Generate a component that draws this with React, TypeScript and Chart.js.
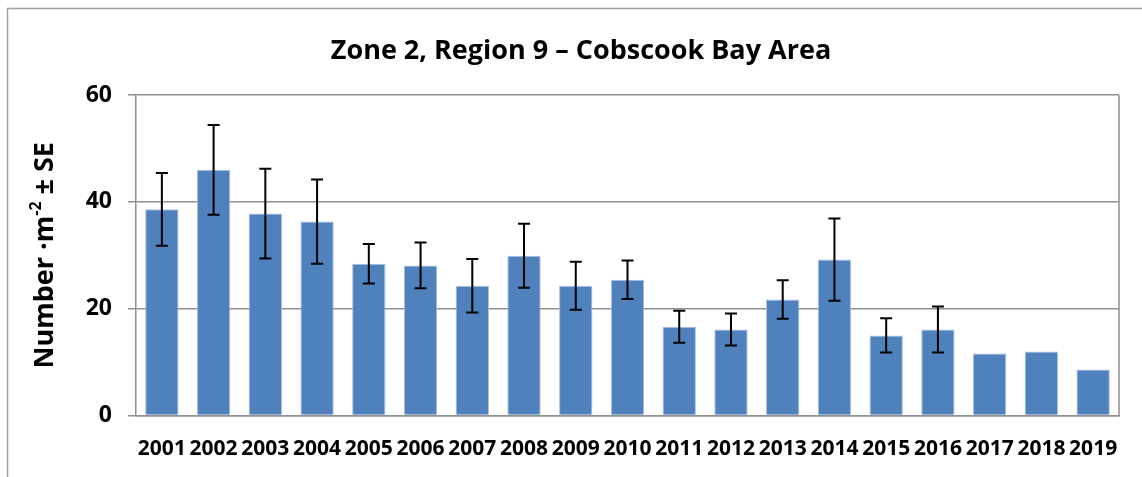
import React, { useEffect, useRef } from "react";
import { Chart, registerables } from "chart.js";

Chart.register(...registerables);

const years = ["2001", "2002", "2003", "2004", "2005", "2006", "2007", "2008", "2009", "2010", "2011", "2012", "2013", "2014", "2015", "2016", "2017", "2018", "2019"];
const means = [38.6, 46.0, 37.8, 36.3, 28.4, 28.1, 24.3, 29.9, 24.3, 25.4, 16.6, 16.1, 21.7, 29.2, 15.0, 16.1, 11.6, 12.0, 8.6];
const se: (number | null)[] = [6.8, 8.4, 8.4, 7.9, 3.7, 4.3, 5.0, 6.0, 4.5, 3.6, 3.0, 3.0, 3.6, 7.7, 3.2, 4.3, null, null, null];
const yTicks = [0, 20, 40, 60];

const titleText = "Zone 2, Region 9 \u2013 Cobscook Bay Area";
const FONT = "'Open Sans', 'Liberation Sans', sans-serif";

const decorPlugin = {
  id: "decor",
  beforeDraw(chart: any) {
    const ctx = chart.ctx;
    ctx.save();
    ctx.fillStyle = "#ffffff";
    ctx.fillRect(0, 0, chart.width, chart.height);
    ctx.strokeStyle = "#a0a0a0";
    ctx.lineWidth = 1.5;
    ctx.beginPath();
    ctx.moveTo(7.5, chart.height + 5);
    ctx.lineTo(7.5, 8.5);
    ctx.lineTo(chart.width + 5, 8.5);
    ctx.stroke();
    ctx.restore();
  },
  afterDatasetsDraw(chart: any) {
    const ctx = chart.ctx;
    const meta = chart.getDatasetMeta(0);
    const yScale = chart.scales.y;
    ctx.save();
    ctx.strokeStyle = "#000000";
    ctx.lineWidth = 2;
    meta.data.forEach((bar: any, i: number) => {
      const s = se[i];
      if (s == null) return;
      const x = bar.x;
      const yHi = yScale.getPixelForValue(means[i] + s);
      const yLo = yScale.getPixelForValue(means[i] - s);
      ctx.beginPath();
      ctx.moveTo(x, yHi);
      ctx.lineTo(x, yLo);
      ctx.moveTo(x - 6, yHi);
      ctx.lineTo(x + 6, yHi);
      ctx.moveTo(x - 6, yLo);
      ctx.lineTo(x + 6, yLo);
      ctx.stroke();
    });
    ctx.restore();
  },
  afterDraw(chart: any) {
    const ctx = chart.ctx;
    const area = chart.chartArea;
    ctx.save();
    ctx.strokeStyle = "#909090";
    ctx.lineWidth = 1.5;
    ctx.beginPath();
    ctx.moveTo(area.right, area.top);
    ctx.lineTo(area.right, area.bottom);
    ctx.stroke();

    ctx.fillStyle = "#000000";
    ctx.font = `bold 27px ${FONT}`;
    ctx.textAlign = "center";
    ctx.textBaseline = "middle";
    ctx.fillText(titleText, 581, 51);

    const cx = 45;
    const cy = (area.top + area.bottom) / 2;
    ctx.translate(cx, cy);
    ctx.rotate(-Math.PI / 2);
    const mainFont = `bold 27px ${FONT}`;
    const supFont = `bold 16px ${FONT}`;
    const p1 = "Number \u00B7m";
    const p2 = "-2";
    const p3 = " \u00B1 SE";
    ctx.font = mainFont;
    const w1 = ctx.measureText(p1).width;
    const w3 = ctx.measureText(p3).width;
    ctx.font = supFont;
    const w2 = ctx.measureText(p2).width;
    const total = w1 + w2 + w3;
    let x = -total / 2;
    ctx.textAlign = "left";
    ctx.textBaseline = "middle";
    ctx.font = mainFont;
    ctx.fillText(p1, x, 0);
    x += w1;
    ctx.font = supFont;
    ctx.fillText(p2, x, -9);
    x += w2;
    ctx.font = mainFont;
    ctx.fillText(p3, x, 0);
    ctx.restore();
  },
};

export default function App() {
  const canvasRef = useRef<HTMLCanvasElement | null>(null);

  useEffect(() => {
    if (!canvasRef.current) return;
    const chart = new Chart(canvasRef.current, {
      type: "bar",
      data: {
        labels: years,
        datasets: [
          {
            data: means,
            backgroundColor: "#4F81BD",
            borderColor: "#A9C0E0",
            borderWidth: 1,
            barPercentage: 0.645,
            categoryPercentage: 1,
          },
        ],
      },
      options: {
        animation: false,
        responsive: true,
        maintainAspectRatio: false,
        layout: { padding: { top: 95, right: 23, left: 0, bottom: 0 } },
        plugins: {
          legend: { display: false },
          title: { display: false },
          tooltip: { enabled: false },
        },
        scales: {
          x: {
            grid: { display: false, drawTicks: false },
            border: { display: true, color: "#909090", width: 1.5 },
            ticks: {
              color: "#000000",
              font: { family: FONT, size: 21, weight: "bold" },
              padding: 21,
              maxRotation: 0,
              autoSkip: false,
            },
            afterFit: (scale: any) => {
              scale.height = 61.5;
            },
          },
          y: {
            min: 0,
            max: 60,
            afterBuildTicks: (scale: any) => {
              scale.ticks = yTicks.map((v) => ({ value: v }));
            },
            grid: { color: "#909090", lineWidth: 1.5, tickLength: 8, drawTicks: true },
            border: { display: true, color: "#909090", width: 1.5 },
            ticks: {
              color: "#000000",
              font: { family: FONT, size: 23, weight: "bold" },
              padding: 16,
            },
            afterFit: (scale: any) => {
              scale.width = 136;
            },
          },
        },
      },
      plugins: [decorPlugin],
    });
    return () => chart.destroy();
  }, []);

  return (
    <div style={{ position: "fixed", left: 0, top: 0, width: 1142, height: 477, background: "#fff" }}>
      <canvas ref={canvasRef} />
    </div>
  );
}
